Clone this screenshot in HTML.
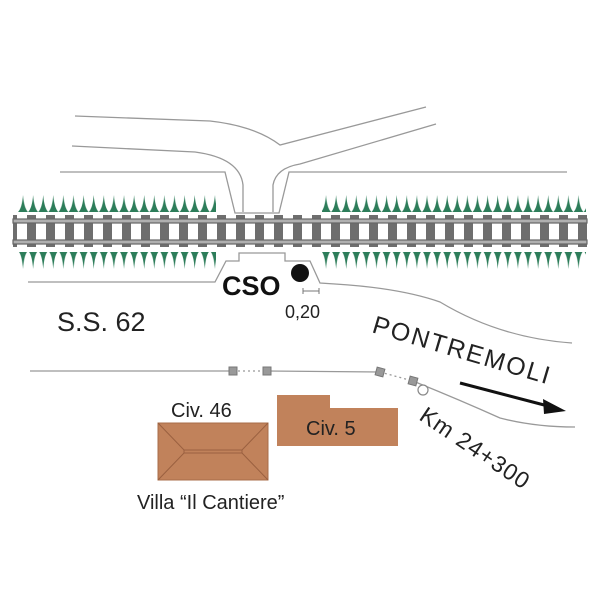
<!DOCTYPE html>
<html><head><style>html,body{margin:0;padding:0;background:#fff}svg{display:block}</style></head>
<body>
<svg width="600" height="600" viewBox="0 0 600 600" xmlns="http://www.w3.org/2000/svg" font-family="Liberation Sans, Arial, sans-serif">
<defs>
<pattern id="sl" x="27" y="0" width="19" height="600" patternUnits="userSpaceOnUse">
<rect x="0" y="215" width="9" height="32" fill="#6e6e6e"/>
</pattern>
<pattern id="gu" x="18" y="0" width="10.1" height="600" patternUnits="userSpaceOnUse">
<path d="M0 212 Q4 208 5 195 Q6 208 10 212 Z" fill="#2d7d5a"/>
</pattern>
<pattern id="gd" x="18" y="0" width="10.1" height="600" patternUnits="userSpaceOnUse">
<path d="M1 252 L9 252 Q6 256 5 269 Q4 256 1 252 Z" fill="#2d7d5a"/>
</pattern>
</defs>
<g fill="none" stroke="#999" stroke-width="1.3">
<path d="M75 116 L210 121 Q255 126 280 145 L426 107"/>
<path d="M72 146 L195 152 Q240 158 243 185 L243 212"/>
<path d="M273 212 L273 185 Q276 168 300 164 L436 124"/>
<path d="M60 172 L225 172 L235 213 L279 213 L289 172 L567 172"/>
<path d="M28 282 L215 282 L226 261 L239 261 L239 253 L285 253 L285 261 L310 261 L320 283 L335 284 Q400 288 440 302 Q500 338 572 343"/>
<path d="M30 371 L233 371 M267 371 L380 372"/>
<path d="M413 381 Q460 400 500 418 Q535 427 575 427"/>
<path d="M233 371 L267 371 M380 372 L413 381" stroke-dasharray="2 3"/>
</g>
<rect x="18" y="190" width="198" height="25" fill="url(#gu)"/>
<rect x="322" y="190" width="264" height="25" fill="url(#gu)"/>
<rect x="18" y="250" width="198" height="22" fill="url(#gd)"/>
<rect x="322" y="250" width="264" height="22" fill="url(#gd)"/>
<rect x="13" y="210" width="574" height="40" fill="url(#sl)"/>
<rect x="13" y="219" width="574" height="4" fill="#b0b0b0" stroke="#666" stroke-width="1.2"/>
<rect x="13" y="240" width="574" height="4" fill="#b0b0b0" stroke="#666" stroke-width="1.2"/>
<rect x="229" y="367" width="8" height="8" fill="#999" stroke="#777"/>
<rect x="263" y="367" width="8" height="8" fill="#999" stroke="#777"/>
<rect x="376" y="368" width="8" height="8" fill="#999" stroke="#777" transform="rotate(15 380 372)"/>
<rect x="409" y="377" width="8" height="8" fill="#999" stroke="#777" transform="rotate(15 413 381)"/>
<circle cx="423" cy="390" r="5" fill="#fff" stroke="#888" stroke-width="1.2"/>
<circle cx="300" cy="273" r="9" fill="#111"/>
<path d="M303 291 L319 291 M303 288 L303 294 M319 288 L319 294" stroke="#777" stroke-width="1"/>
<text x="222" y="295" font-size="27" font-weight="bold" fill="#111">CSO</text>
<text x="285" y="318" font-size="18" fill="#222">0,20</text>
<text x="57" y="331" font-size="27" fill="#222">S.S. 62</text>
<text x="0" y="0" font-size="25" letter-spacing="2" fill="#222" transform="translate(371 332) rotate(16.5)">PONTREMOLI</text>
<path d="M460 383 L548 406" stroke="#111" stroke-width="3"/>
<path d="M566 411 L543 399 L544 414 Z" fill="#111"/>
<text x="0" y="0" font-size="23" letter-spacing="1" fill="#222" transform="translate(418 419) rotate(34)">Km 24+300</text>
<rect x="158" y="423" width="110" height="57" fill="#c1825b" stroke="#a86c48"/>
<path d="M158 423 L184 450 L242 450 L268 423 M158 480 L184 453 L242 453 L268 480 M184 450 L184 453 M242 450 L242 453" fill="none" stroke="#9a6040" stroke-width="1"/>
<path d="M277 395 L330 395 L330 408 L398 408 L398 446 L277 446 Z" fill="#c1825b"/>
<text x="171" y="417" font-size="20" fill="#222">Civ. 46</text>
<text x="306" y="435" font-size="20" fill="#222">Civ. 5</text>
<text x="137" y="509" font-size="20" fill="#222">Villa “Il Cantiere”</text>
</svg>
</body></html>
